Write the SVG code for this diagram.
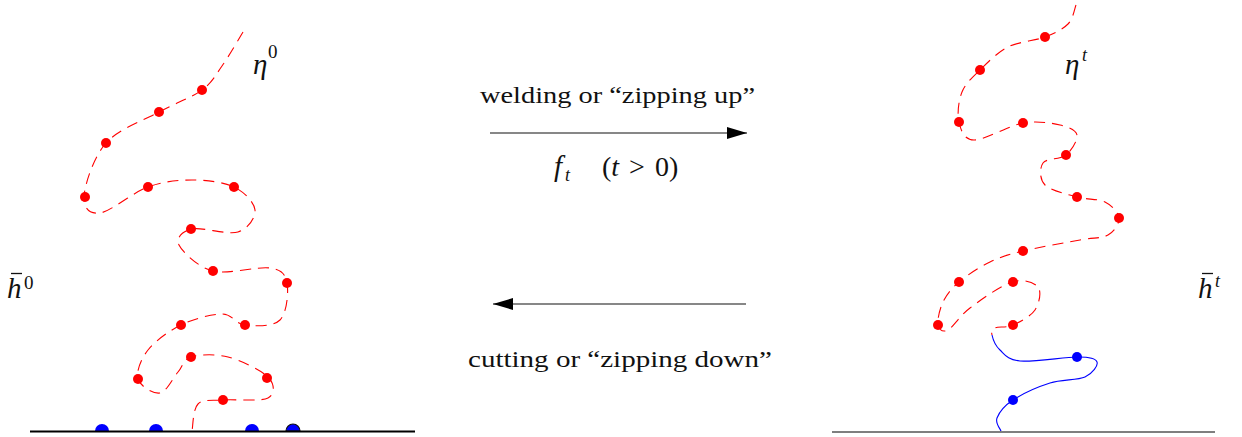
<svg xmlns="http://www.w3.org/2000/svg" width="1242" height="437" viewBox="0 0 1242 437">
<style>
.red{fill:none;stroke:#ff0000;stroke-width:1.1;stroke-dasharray:11 7}
.blue{fill:none;stroke:#0000ff;stroke-width:1.1}
.rd{fill:#ff0000}
.bd{fill:#0000ff}
.t{font-family:"Liberation Serif","DejaVu Serif",serif;font-size:23px;fill:#111}
.m{font-family:"Liberation Serif","DejaVu Serif",serif;font-style:italic;font-size:29px;fill:#111}
.s{font-family:"Liberation Serif","DejaVu Serif",serif;font-size:19px;fill:#111}
.si{font-family:"Liberation Serif","DejaVu Serif",serif;font-style:italic;font-size:18px;fill:#111}
.p{font-family:"Liberation Serif","DejaVu Serif",serif;font-size:28px;fill:#111;word-spacing:3px}
.arr{stroke:#111;stroke-width:1.2;fill:none}
</style>
<defs>
<marker id="ah" viewBox="0 0 20 12" refX="20" refY="6" markerWidth="20" markerHeight="12" markerUnits="userSpaceOnUse" orient="auto">
<path d="M0,0 L20,6 L0,12 Z" fill="#000"/>
</marker>
</defs>
<rect width="1242" height="437" fill="#fff"/>

<g id="left-scene">
<path id="eta0" class="red" d="M243,32 C239.5,37.7 228.8,56.3 222,66 C215.2,75.7 212.5,82.3 202,90 C191.5,97.7 175,103.2 159,112 C143,120.8 118.5,129 106,143 C93.5,157 85,184.3 84,196 C83,207.7 89.3,214.5 100,213 C110.7,211.5 132.7,192.5 148,187 C163.3,181.5 177.7,180 192,180 C206.3,180 223.5,182 234,187 C244.5,192 254.3,202.5 255,210 C255.7,217.5 248.5,228.8 238,232 C227.5,235.2 201.8,226.8 192,229 C182.2,231.2 175.5,238 179,245 C182.5,252 197.8,267.2 213,271 C228.2,274.8 257.7,266 270,268 C282.3,270 285.3,274.3 287,283 C288.7,291.7 287,313 280,320 C273,327 254.7,326 245,325 C235.3,324 232.7,314 222,314 C211.3,314 193.3,319 181,325 C168.7,331 155.2,341 148,350 C140.8,359 136,371.8 138,379 C140,386.2 153.3,394.2 160,393 C166.7,391.8 172.8,378 178,372 C183.2,366 182.7,359.5 191,357 C199.3,354.5 215.2,353.7 228,357 C240.8,360.3 261.3,370.2 268,377 C274.7,383.8 275.5,394.2 268,398 C260.5,401.8 234.7,399 223,400 C211.3,401 203.2,398.8 198,404 C192.8,409.2 193,426.5 192,431"/>
<g id="eta0-dots" class="rd">
<circle cx="202" cy="90" r="5"/><circle cx="159" cy="112" r="5"/><circle cx="106" cy="143" r="5"/>
<circle cx="85" cy="197" r="5"/><circle cx="148" cy="187" r="5"/><circle cx="234" cy="187" r="5"/>
<circle cx="191" cy="229" r="5"/><circle cx="213" cy="271" r="5"/><circle cx="287" cy="283" r="5"/>
<circle cx="245" cy="325" r="5"/><circle cx="181" cy="325" r="5"/><circle cx="138" cy="379" r="5"/>
<circle cx="191" cy="357" r="5"/><circle cx="267" cy="378" r="5"/><circle cx="223" cy="400" r="5"/>
</g>
<g id="base-dots" class="bd">
<path d="M95,431 A7,7 0 0 1 109,431 Z"/>
<path d="M149,431 A7,7 0 0 1 163,431 Z"/>
<path d="M245,431 A7,7 0 0 1 259,431 Z"/>
<path d="M286,431 A7,7 0 0 1 300,431 Z" stroke="#111" stroke-width="1.2"/>
</g>
<line id="base0" x1="30" y1="431.5" x2="415" y2="431.5" stroke="#000" stroke-width="2.2"/>
<text class="m" x="253" y="74">η</text><text class="s" x="268" y="58">0</text>
<text class="m" x="7" y="298">h</text><line x1="11" y1="273.5" x2="22" y2="273.5" stroke="#111" stroke-width="1.3"/><text class="s" x="24" y="289">0</text>
</g>

<g id="right-scene">
<path id="etat" class="red" d="M1076,5 C1074.7,8.2 1073.2,18.7 1068,24 C1062.8,29.3 1055,33.2 1045,37 C1035,40.8 1018.8,41.5 1008,47 C997.2,52.5 987.7,62.5 980,70 C972.3,77.5 965.5,83.3 962,92 C958.5,100.7 957,114 959,122 C961,130 963.3,139.8 974,140 C984.7,140.2 1008.7,125.5 1023,123 C1037.3,120.5 1051,123 1060,125 C1069,127 1076,130 1077,135 C1078,140 1071.7,150.3 1066,155 C1060.3,159.7 1046.5,158 1043,163 C1039.5,168 1039.3,179.3 1045,185 C1050.7,190.7 1067,194.2 1077,197 C1087,199.8 1098,198.5 1105,202 C1112,205.5 1118.5,212.5 1119,218 C1119.5,223.5 1114.5,231.3 1108,235 C1101.5,238.7 1094.2,237.3 1080,240 C1065.8,242.7 1038,247.3 1023,251 C1008,254.7 1000.7,256.8 990,262 C979.3,267.2 966.8,275.3 959,282 C951.2,288.7 946.5,294.8 943,302 C939.5,309.2 937.2,320.3 938,325 C938.8,329.7 942.7,332.8 948,330 C953.3,327.2 959.3,316 970,308 C980.7,300 1000.7,285.5 1012,282 C1023.3,278.5 1034.2,282.3 1038,287 C1041.8,291.7 1039.2,303.7 1035,310 C1030.8,316.3 1019.7,322 1013,325 C1006.3,328 998.5,326.3 995,328 C991.5,329.7 991.2,331.3 992,335"/>
<path id="ht" class="blue" d="M992,335 C992.8,338.7 995.3,345.7 1000,350 C1004.7,354.3 1007.2,359.8 1020,361 C1032.8,362.2 1064.2,357.2 1077,357 C1089.8,356.8 1095.7,358.7 1097,362 C1098.3,365.3 1092.8,373.5 1085,377 C1077.2,380.5 1062,379.2 1050,383 C1038,386.8 1021.8,394.2 1013,400 C1004.2,405.8 999,412.8 997,418 C995,423.2 1000.3,428.8 1001,431"/>
<g id="etat-dots" class="rd">
<circle cx="1045" cy="37" r="5"/><circle cx="980" cy="70" r="5"/><circle cx="959" cy="122" r="5"/>
<circle cx="1023" cy="123" r="5"/><circle cx="1066" cy="155" r="5"/><circle cx="1077" cy="197" r="5"/>
<circle cx="1119" cy="218" r="5"/><circle cx="1023" cy="251" r="5"/><circle cx="959" cy="282" r="5"/>
<circle cx="938" cy="325" r="5"/><circle cx="1013" cy="282" r="5"/><circle cx="1013" cy="325" r="5"/>
</g>
<g id="ht-dots" class="bd">
<circle cx="1077" cy="357" r="5"/><circle cx="1013" cy="400" r="5"/>
</g>
<line id="baset" x1="832" y1="432" x2="1215" y2="432" stroke="#555" stroke-width="1.3"/>
<text class="m" x="1065" y="74">η</text><text class="si" x="1082" y="61">t</text>
<text class="m" x="1198" y="298">h</text><line x1="1202" y1="273.5" x2="1213" y2="273.5" stroke="#111" stroke-width="1.3"/><text class="si" x="1215" y="287">t</text>
</g>

<g id="connectors">
<line class="arr" x1="490" y1="133" x2="747" y2="133" marker-end="url(#ah)"/>
<line class="arr" x1="746" y1="304" x2="493" y2="304" marker-end="url(#ah)"/>
</g>

<g id="labels">
<text class="t" x="480" y="103" textLength="275" lengthAdjust="spacingAndGlyphs">welding or “zipping up”</text>
<text class="m" x="554" y="176">f</text><text class="si" x="565" y="181">t</text>
<text class="p" x="602" y="176">(<tspan font-style="italic">t</tspan> &gt; 0)</text>
<text class="t" x="468" y="367" textLength="304" lengthAdjust="spacingAndGlyphs">cutting or “zipping down”</text>
</g>
</svg>
